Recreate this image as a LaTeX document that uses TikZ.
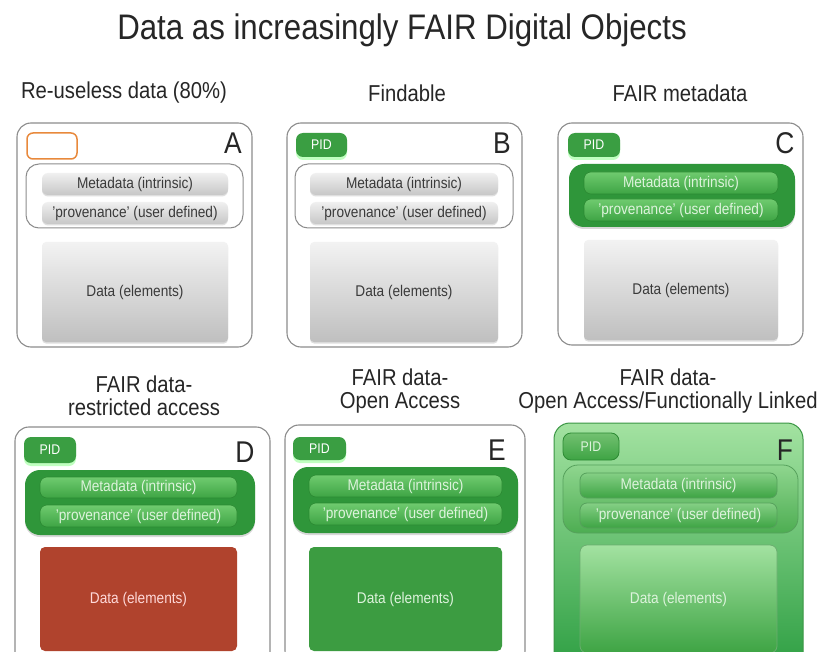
\documentclass[tikz,border=0pt]{standalone}
\usepackage{fontspec}
\setmainfont[FakeStretch=0.88]{Liberation Sans}
\usetikzlibrary{shadows}

\definecolor{panelgray}{HTML}{8C8C8C}
\definecolor{textgray}{HTML}{3A3A3A}
\definecolor{pidorange}{HTML}{E8893C}
\definecolor{fairgreen}{HTML}{2F963A}
\definecolor{pidgreen}{HTML}{3A9E42}
\definecolor{barlight}{HTML}{6FCB6F}
\definecolor{bardark}{HTML}{3EA444}
\definecolor{barline}{HTML}{2C8A33}
\definecolor{palegreen}{HTML}{DDF3DC}
\definecolor{closedred}{HTML}{B0432D}
\definecolor{opengreen}{HTML}{3C9C41}
\definecolor{linktop}{HTML}{A3E2A1}
\definecolor{linkbottom}{HTML}{2E9F43}
\definecolor{linkline}{HTML}{3A9644}

\tikzset{
    box/.style={anchor=north west, inner sep=0pt, outer sep=0pt},
    wh/.style 2 args={minimum width=#1, minimum height=#2},
    heading/.style={font=\fontsize{23}{23}\selectfont, align=center, text=black!85},
    letter/.style={font=\fontsize{30}{30}\selectfont, text=black!85},
    barfont/.style={font=\fontsize{15.5}{16}\selectfont},
    panel/.style={box, draw=panelgray, line width=1.1pt, rounded corners=14pt, fill=white},
    % grey (plain) pieces
    graygroup/.style={box, draw=panelgray, line width=1pt, rounded corners=13pt},
    graybar/.style={box, barfont, rounded corners=6pt, top color=black!6, bottom color=black!22,
        text=textgray, drop shadow={shadow xshift=0pt, shadow yshift=-1.5pt, opacity=0.25}},
    graydata/.style={graybar, rounded corners=4pt, top color=black!5, bottom color=black!25},
    emptypid/.style={box, draw=pidorange, line width=1.5pt, rounded corners=6pt, fill=white},
    % green (FAIR) pieces
    pid/.style={box, font=\fontsize{14}{14}\selectfont, rounded corners=7pt, fill=pidgreen, text=white,
        drop shadow={fill=green!35!white, shadow xshift=0pt, shadow yshift=-3pt, opacity=0.7}},
    greengroup/.style={box, rounded corners=15pt, fill=fairgreen,
        drop shadow={shadow xshift=0pt, shadow yshift=-2pt, opacity=0.3}},
    greenbar/.style={box, barfont, rounded corners=7pt, top color=barlight, bottom color=bardark,
        draw=barline, line width=0.6pt, text=palegreen},
    closeddata/.style={box, barfont, rounded corners=5pt, fill=closedred, text=red!15!white},
    opendata/.style={box, barfont, rounded corners=5pt, fill=opengreen, text=palegreen},
    % linked pieces
    linkpanel/.style={box, rounded corners=16pt, top color=linktop, bottom color=linkbottom,
        draw=linkline, line width=1pt},
    linkpid/.style={box, font=\fontsize{14}{14}\selectfont, rounded corners=8pt,
        top color=green!45!black!30!linktop, bottom color=bardark, draw=barline, line width=0.8pt, text=palegreen},
    linkgroup/.style={box, rounded corners=15pt, top color=linktop!80!bardark, bottom color=bardark!85!linktop,
        draw=barline!80, line width=0.8pt},
    linkbar/.style={box, barfont, rounded corners=7pt, top color=linktop!70!bardark, bottom color=bardark,
        draw=barline!80, line width=0.8pt, text=palegreen},
    linkdata/.style={box, barfont, rounded corners=7pt, top color=linktop, bottom color=bardark,
        draw=barline!70, line width=0.8pt, text=palegreen},
}

\begin{document}
\begin{tikzpicture}[x=1pt, y=-1pt]
    \clip (0,0) rectangle (827,652);
    \fill[white] (0,0) rectangle (827,652);

    \node[font=\fontsize{35.5}{36}\selectfont, text=black!85] (title) at (402,30) {Data as increasingly FAIR Digital Objects};

    % row 1 headings
    \node[heading] (headA) at (124,93) {Re-useless data (80\%)};
    \node[heading] (headB) at (407,93) {Findable};
    \node[heading] (headC) at (680,93) {FAIR metadata};

    % row 2 headings
    \node[heading] (headD) at (144,396) {FAIR data-\\restricted access};
    \node[heading] (headE) at (400,391) {FAIR data-\\Open Access};
    \node[heading] (headF) at (668,391) {FAIR data-\\Open Access/Functionally Linked};

    % A: no PID, plain metadata
    \node[panel, wh={235pt}{224pt}] (panelA) at (17,123) {};
    \node[letter] (letA) at (233,143) {A};
    \node[emptypid, wh={50pt}{26pt}] (pidA) at (27,133) {};
    \node[graygroup, wh={217pt}{64pt}] (groupA) at (26,164) {};
    \node[graybar, wh={186pt}{22pt}] (metaA) at (42,173) {Metadata (intrinsic)};
    \node[graybar, wh={186pt}{22pt}] (provA) at (42,202) {'provenance' (user defined)};
    \node[graydata, wh={186pt}{100pt}] (dataA) at (42,242) {Data (elements)};

    % B: findable
    \node[panel, wh={235pt}{224pt}] (panelB) at (287,123) {};
    \node[letter] (letB) at (502,143) {B};
    \node[pid, wh={51pt}{24pt}] (pidB) at (296,133) {PID};
    \node[graygroup, wh={218pt}{64pt}] (groupB) at (295,164) {};
    \node[graybar, wh={188pt}{22pt}] (metaB) at (310,173) {Metadata (intrinsic)};
    \node[graybar, wh={188pt}{22pt}] (provB) at (310,202) {'provenance' (user defined)};
    \node[graydata, wh={188pt}{100pt}] (dataB) at (310,242) {Data (elements)};

    % C: FAIR metadata
    \node[panel, wh={245pt}{222pt}] (panelC) at (558,123) {};
    \node[letter] (letC) at (785,143) {C};
    \node[pid, wh={52pt}{24pt}] (pidC) at (568,133) {PID};
    \node[greengroup, wh={226pt}{63pt}] (groupC) at (569,164) {};
    \node[greenbar, wh={194pt}{22pt}] (metaC) at (584,172) {Metadata (intrinsic)};
    \node[greenbar, wh={194pt}{22pt}] (provC) at (584,199) {'provenance' (user defined)};
    \node[graydata, wh={194pt}{100pt}] (dataC) at (584,240) {Data (elements)};

    % D: restricted access
    \node[panel, wh={255pt}{240pt}] (panelD) at (15,427) {};
    \node[letter] (letD) at (245,452) {D};
    \node[pid, wh={52pt}{26pt}] (pidD) at (24,437) {PID};
    \node[greengroup, wh={230pt}{65pt}] (groupD) at (25,470) {};
    \node[greenbar, wh={197pt}{21pt}] (metaD) at (40,477) {Metadata (intrinsic)};
    \node[greenbar, wh={197pt}{22pt}] (provD) at (40,505) {'provenance' (user defined)};
    \node[closeddata, wh={197pt}{104pt}] (dataD) at (40,547) {Data (elements)};

    % E: open access
    \node[panel, wh={240pt}{240pt}] (panelE) at (285,425) {};
    \node[letter] (letE) at (497,450) {E};
    \node[pid, wh={53pt}{23pt}] (pidE) at (293,437) {PID};
    \node[greengroup, wh={225pt}{66pt}] (groupE) at (293,467) {};
    \node[greenbar, wh={193pt}{22pt}] (metaE) at (309,475) {Metadata (intrinsic)};
    \node[greenbar, wh={193pt}{22pt}] (provE) at (309,503) {'provenance' (user defined)};
    \node[opendata, wh={193pt}{104pt}] (dataE) at (309,547) {Data (elements)};

    % F: open access, functionally linked
    \node[linkpanel, wh={249pt}{245pt}] (panelF) at (554,423) {};
    \node[letter] (letF) at (785,450) {F};
    \node[linkpid, wh={56pt}{27pt}] (pidF) at (563,433) {PID};
    \node[linkgroup, wh={235pt}{68pt}] (groupF) at (563,465) {};
    \node[linkbar, wh={197pt}{25pt}] (metaF) at (580,473) {Metadata (intrinsic)};
    \node[linkbar, wh={197pt}{25pt}] (provF) at (580,503) {'provenance' (user defined)};
    \node[linkdata, wh={197pt}{108pt}] (dataF) at (580,545) {Data (elements)};
\end{tikzpicture}
\end{document}
